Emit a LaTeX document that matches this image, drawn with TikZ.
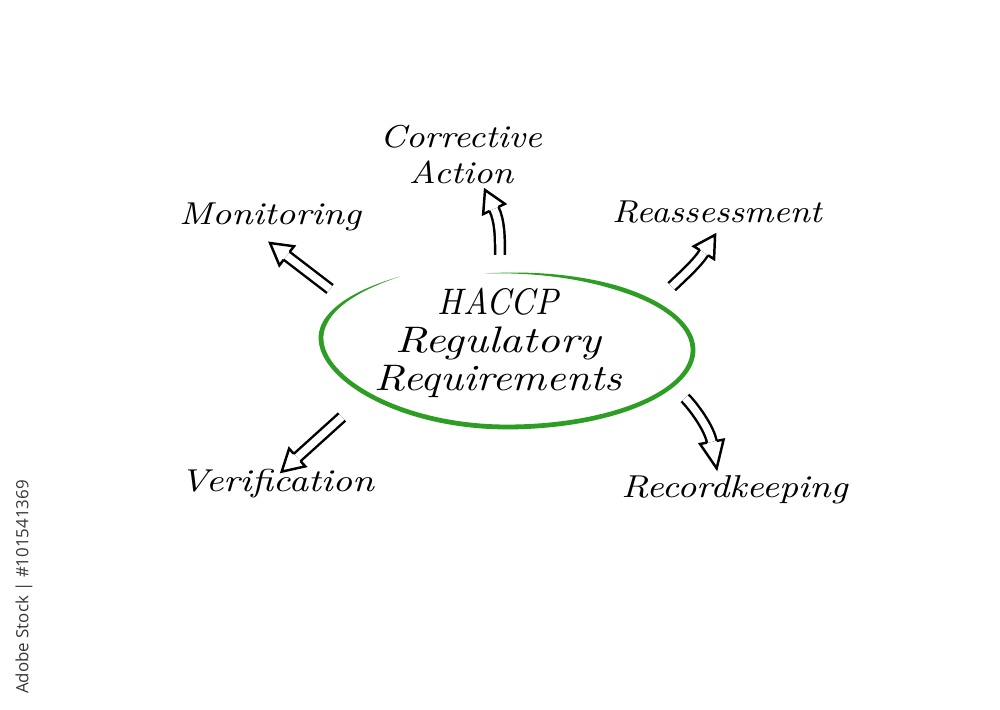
\documentclass[tikz,border=0pt]{standalone}
\usepackage{fontspec}
\usepackage{graphicx}
\newfontfamily\wmfont{Open Sans}
\definecolor{ellgreen}{RGB}{45,158,35}
\definecolor{wmgray}{RGB}{55,55,55}
\tikzset{
  lbltext/.style={inner sep=0pt, anchor=base},
  shaft/.style={draw=black, line width=0.7pt, double=white, double distance=2.1pt},
  headline/.style={draw=black, line width=0.7pt, line join=miter},
  declare function={
    ww(\t)=2.4*min(1,2.5*sin(0.54217*(235-\t)));
    sp(\t)=8*max(0,1-0.024096*(235-\t));
    lf(\t)=12*max(0,-cos(\t))*max(0,-cos(\t));
  },
}
\newcommand{\lblfont}{\fontsize{9}{9.96}\selectfont\itshape}
\newcommand{\ctrfont}{\fontsize{10.5}{10.67}\selectfont\itshape}
\newcommand{\ahead}[3]{%
  \draw[headline, shift={#1}, rotate=#2] (0,4.9) -- (0,12) -- (#3,0) -- (0,-12) -- (0,-4.9);}
\begin{document}
\begin{tikzpicture}[x=0.01cm, y=-0.01cm]
\useasboundingbox (0,0) rectangle (1000,710);
\fill[white] (0,0) rectangle (1000,710);

% green hand-drawn ellipse (open at the top, tapered ends)
\fill[ellgreen]
  plot[domain=235:-97, samples=180, variable=\t]
   ({507+(186+ww(\t))*cos(\t)}, {350-lf(\t)+(77+sp(\t)+ww(\t))*sin(\t)})
  -- plot[domain=-97:235, samples=180, variable=\t]
   ({507+(186-ww(\t))*cos(\t)}, {350-lf(\t)+(77+sp(\t)-ww(\t))*sin(\t)})
  -- cycle;

% centre text
\node[lbltext] (center) at (498,315)
  {\ctrfont\begin{tabular}[t]{@{}c@{}}\scalebox{0.92}[1]{HACCP}\\\scalebox{1.21}[1]{Regulatory}\\\scalebox{1.155}[1]{Requirements}\end{tabular}};

% labels
\node[lbltext] (cor) at (461,148)
  {\scalebox{1.12}[1]{\lblfont\begin{tabular}[t]{@{}c@{}}Corrective\\Action\end{tabular}}};
\node[lbltext] (mon) at (270,225) {\scalebox{1.15}[1]{\lblfont Monitoring}};
\node[lbltext] (rea) at (717,223) {\scalebox{1.1}[1]{\lblfont Reassessment}};
\node[lbltext] (ver) at (277,492) {\scalebox{1.18}[1]{\lblfont Verification}};
\node[lbltext] (rec) at (734.5,498) {\scalebox{1.15}[1]{\lblfont Recordkeeping}};

% arrows
\coordinate (monT) at (330,289);   \coordinate (monB) at (286.7,255.8);
\coordinate (corT) at (500,255);   \coordinate (corB) at (494,209);
\coordinate (reaT) at (671.7,286.7); \coordinate (reaB) at (703.9,252.7);
\coordinate (verT) at (342,417);   \coordinate (verB) at (297.2,457.5);
\coordinate (recT) at (685,398);   \coordinate (recB) at (711.8,441.8);

\draw[shaft] (monT) -- (monB);
\ahead{(monB)}{142.5}{21}
\draw[shaft] (corT) .. controls (500,238) and (500,221.6) .. (corB);
\ahead{(corB)}{115.3}{21}
\draw[shaft] (reaT) .. controls (683.3,275.7) and (697.5,262.8) .. (reaB);
\ahead{(reaB)}{57.9}{21}
\draw[shaft] (verT) -- (verB);
\ahead{(verB)}{222.4}{21}
\draw[shaft] (recT) .. controls (693.5,406.5) and (709.3,428.1) .. (recB);
\ahead{(recB)}{-79.6}{27}

% stock credit
\node[rotate=90, inner sep=0pt, text=wmgray, font=\wmfont\fontsize{4.8}{6}\selectfont] (wm) at (24,587) {Adobe Stock | \#101541369};
\end{tikzpicture}
\end{document}
